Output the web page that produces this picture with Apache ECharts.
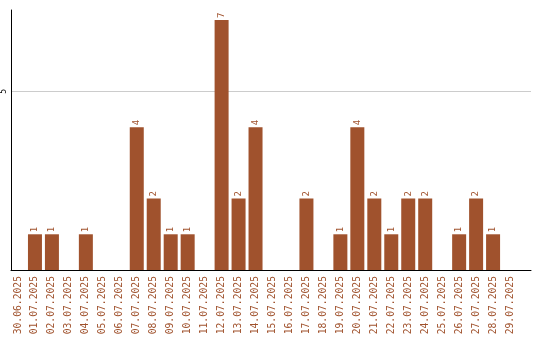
<!DOCTYPE html>
<html><head><meta charset="utf-8">
<script src="https://cdn.jsdelivr.net/npm/echarts@6/dist/echarts.min.js"></script>
<style>html,body{margin:0;padding:0;background:#fff}#c{width:540px;height:340px}</style>
</head><body><div id="c"></div>
<script>
const categories = ["30.06.2025","01.07.2025","02.07.2025","03.07.2025","04.07.2025","05.07.2025","06.07.2025","07.07.2025","08.07.2025","09.07.2025","10.07.2025","11.07.2025","12.07.2025","13.07.2025","14.07.2025","15.07.2025","16.07.2025","17.07.2025","18.07.2025","19.07.2025","20.07.2025","21.07.2025","22.07.2025","23.07.2025","24.07.2025","25.07.2025","26.07.2025","27.07.2025","28.07.2025","29.07.2025"];
const values = [0,1,1,0,1,0,0,4,2,1,1,0,7,2,4,0,0,2,0,1,4,2,1,2,2,0,1,2,1,0];
const yTicks = [5];

const color = '#A0522D';
const chart = echarts.init(document.getElementById('c'), null, {renderer:'canvas'});
chart.setOption({
  animation:false,
  grid:{left:10,right:9,top:10,bottom:70,containLabel:false},
  xAxis:{
    type:'value', min:-0.412, max:30.235,
    splitLine:{show:false},
    axisLine:{show:true,onZero:false,lineStyle:{color:'#000',width:1}},
    axisTick:{show:false},
    axisLabel:{
      customValues: categories.map((c,i)=>i),
      formatter:(v)=>categories[Math.round(v)] || '',
      rotate:90, margin:6, color:color,
      fontFamily:'DejaVu Sans Mono', fontSize:9.7
    }
  },
  yAxis:{
    type:'value', min:0, max:7.28, interval:5,
    axisLine:{show:true,onZero:false,lineStyle:{color:'#000',width:1}},
    axisTick:{show:false},
    splitLine:{show:true,showMinLine:false,showMaxLine:false,lineStyle:{color:'#cccccc',width:1}},
    axisLabel:{
      customValues: yTicks,
      rotate:90, margin:3, color:'#000',
      fontFamily:'DejaVu Sans Mono', fontSize:8
    }
  },
  series:[{
    type:'bar',
    data: values.map((v,i)=>[i,v]).filter(d=>d[1]>0),
    barWidth:14,
    itemStyle:{color:color},
    label:{
      show:true, position:'top', rotate:90, distance:2,
      align:'left', verticalAlign:'middle',
      color:color, fontFamily:'DejaVu Sans Mono', fontSize:9,
      formatter:(p)=>String(p.value[1])
    }
  }]
});
</script></body></html>
